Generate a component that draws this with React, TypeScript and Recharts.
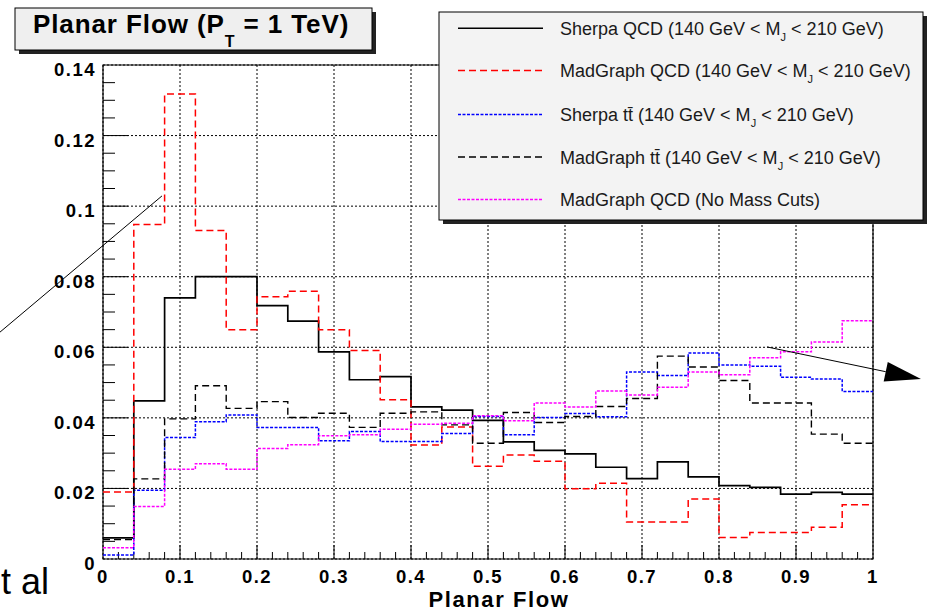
import React from 'react';
import { ComposedChart, Line, XAxis, YAxis, CartesianGrid, ReferenceLine, ReferenceArea } from 'recharts';

// histogram bin edges (25 bins of 0.04)
const binEdges = [0, 0.04, 0.08, 0.12, 0.16, 0.2, 0.24, 0.28, 0.32, 0.36, 0.4, 0.44, 0.48, 0.52, 0.56, 0.6, 0.64, 0.68, 0.72, 0.76, 0.8, 0.84, 0.88, 0.92, 0.96, 1.0];

const sherpaQcd = [0.006, 0.0448, 0.074, 0.08, 0.08, 0.0718, 0.0674, 0.0587, 0.0508, 0.0517, 0.0431, 0.0422, 0.0393, 0.0332, 0.0308, 0.0298, 0.026, 0.0228, 0.0275, 0.0233, 0.0208, 0.0203, 0.0184, 0.0189, 0.0184];
const madgraphQcd = [0.019, 0.0948, 0.1318, 0.0931, 0.065, 0.0743, 0.0759, 0.065, 0.0591, 0.0451, 0.0323, 0.0374, 0.0263, 0.0295, 0.0277, 0.0199, 0.0215, 0.0105, 0.0105, 0.017, 0.0061, 0.0075, 0.0075, 0.009, 0.0154];
const sherpaTt = [0.0011, 0.0195, 0.0344, 0.0389, 0.0408, 0.0373, 0.0373, 0.0335, 0.0361, 0.0333, 0.0333, 0.0356, 0.0404, 0.0352, 0.0401, 0.0412, 0.0403, 0.053, 0.052, 0.0584, 0.055, 0.0546, 0.0515, 0.051, 0.0475];
const madgraphTt = [0.0055, 0.0227, 0.0397, 0.0491, 0.0427, 0.0446, 0.0401, 0.0413, 0.0373, 0.0413, 0.0417, 0.038, 0.0328, 0.0415, 0.0387, 0.0404, 0.0432, 0.0455, 0.0575, 0.0544, 0.0506, 0.0442, 0.0442, 0.0354, 0.0328];
const madgraphNoCut = [0.0032, 0.0149, 0.0254, 0.027, 0.0254, 0.0313, 0.0324, 0.0349, 0.0352, 0.0368, 0.0382, 0.0385, 0.0406, 0.0392, 0.0442, 0.0431, 0.0476, 0.0465, 0.0487, 0.053, 0.0522, 0.057, 0.0587, 0.0615, 0.0675];

const xTicks = [0, 0.1, 0.2, 0.3, 0.4, 0.5, 0.6, 0.7, 0.8, 0.9, 1];
const xTickLabels = ['0', '0.1', '0.2', '0.3', '0.4', '0.5', '0.6', '0.7', '0.8', '0.9', '1'];
const yTicks = [0, 0.02, 0.04, 0.06, 0.08, 0.1, 0.12, 0.14];
const yTickLabels = ['0', '0.02', '0.04', '0.06', '0.08', '0.1', '0.12', '0.14'];

const series = [
  { key: 'sherpaQcd', label: 'Sherpa QCD', tt: false, cut: true, values: sherpaQcd, color: '#000', dash: undefined, width: 1.7 },
  { key: 'madgraphQcd', label: 'MadGraph QCD', tt: false, cut: true, values: madgraphQcd, color: '#ff0000', dash: '7 4', width: 1.5 },
  { key: 'sherpaTt', label: 'Sherpa t', tt: true, cut: true, values: sherpaTt, color: '#0000ff', dash: '3 1.5', width: 1.5 },
  { key: 'madgraphTt', label: 'MadGraph t', tt: true, cut: true, values: madgraphTt, color: '#000', dash: '7 4', width: 1.4 },
  { key: 'madgraphNoCut', label: 'MadGraph QCD (No Mass Cuts)', tt: false, cut: false, values: madgraphNoCut, color: '#ff00ff', dash: '3 1.5', width: 1.5 },
];

const data = binEdges.map((x, i) => {
  const row: Record<string, number> = { x };
  series.forEach((s) => {
    row[s.key] = s.values[Math.min(i, s.values.length - 1)];
  });
  return row;
});

// pixel -> data unit helpers for tick lengths
const PX_X = 1 / 770;
const PX_Y = 0.14 / 494;

const FONT = 'Liberation Sans, Arial, Helvetica, sans-serif';

const YTick = (props: any) => {
  const i = yTicks.findIndex((t) => Math.abs(t - props.payload.value) < 1e-9);
  return (
    <text x={96} y={props.y + 4.5} textAnchor="end" dominantBaseline="central"
      style={{ fontFamily: FONT, fontWeight: 700, fontSize: 18.5, letterSpacing: 1.5 }} fill="#000">
      {yTickLabels[i]}
    </text>
  );
};

const XTick = (props: any) => {
  const i = xTicks.findIndex((t) => Math.abs(t - props.payload.value) < 1e-9);
  return (
    <text x={props.x} y={576} textAnchor="middle" dominantBaseline="central"
      style={{ fontFamily: FONT, fontWeight: 700, fontSize: 18.5, letterSpacing: 1.5 }} fill="#000">
      {xTickLabels[i]}
    </text>
  );
};

const ArrowShape = (props: any) => {
  const { x1, y1, x2, y2 } = props;
  const len = Math.hypot(x2 - x1, y2 - y1);
  const ux = (x2 - x1) / len;
  const uy = (y2 - y1) / len;
  const bx = x2 - ux * 36;
  const by = y2 - uy * 36;
  const pts = `${x2},${y2} ${bx - uy * 10},${by + ux * 10} ${bx + uy * 10},${by - ux * 10}`;
  return (
    <g>
      <line x1={x1} y1={y1} x2={bx} y2={by} stroke="#000" strokeWidth={1} />
      <polygon points={pts} fill="#000" />
    </g>
  );
};

const yMinor: number[] = [];
for (let k = 1; k < 28; k++) if (k % 4 !== 0) yMinor.push(k * 0.005);
const yMajor = yTicks.slice(1, -1);
const xMinor: number[] = [];
for (let k = 1; k < 50; k++) if (k % 5 !== 0) xMinor.push(k * 0.02);
const xMajor = xTicks.slice(1, -1);

const legendRows = [28.3, 70.5, 114.5, 157, 199.5];

export default function App() {
  return (
    <div style={{ position: 'absolute', left: 0, top: 0, width: 936, height: 613, background: '#fff' }}>
      <ComposedChart width={936} height={613} data={data} margin={{ top: 65, right: 63, left: 0, bottom: 0 }}>
        <CartesianGrid stroke="#000" strokeDasharray="2 2" strokeWidth={1} />
        <XAxis type="number" dataKey="x" domain={[0, 1]} ticks={xTicks} height={54}
          axisLine={false} tickLine={false} tickSize={0} tick={<XTick />} interval={0} />
        <YAxis type="number" domain={[0, 0.14]} ticks={yTicks} width={103}
          axisLine={false} tickLine={false} tickSize={0} tick={<YTick />} interval={0} />
        <ReferenceArea x1={0} x2={1} y1={0} y2={0.14} fill="none" fillOpacity={0} stroke="#000" strokeWidth={1.2} />
        {yMinor.map((v) => (
          <ReferenceLine key={'ym' + v} segment={[{ x: 0, y: v }, { x: 12 * PX_X, y: v }]} stroke="#000" strokeWidth={1} />
        ))}
        {yMajor.map((v) => (
          <ReferenceLine key={'yM' + v} segment={[{ x: 0, y: v }, { x: 25 * PX_X, y: v }]} stroke="#000" strokeWidth={1} />
        ))}
        {xMinor.map((v) => (
          <ReferenceLine key={'xm' + v} segment={[{ x: v, y: 0 }, { x: v, y: 7 * PX_Y }]} stroke="#000" strokeWidth={1} />
        ))}
        {xMajor.map((v) => (
          <ReferenceLine key={'xM' + v} segment={[{ x: v, y: 0 }, { x: v, y: 14 * PX_Y }]} stroke="#000" strokeWidth={1} />
        ))}
        {series.map((s) => (
          <Line key={s.key} dataKey={s.key} type="stepAfter" stroke={s.color} strokeWidth={s.width}
            strokeDasharray={s.dash} dot={false} activeDot={false} isAnimationActive={false} />
        ))}
        {/* annotation lines from the slide */}
        <ReferenceLine ifOverflow="visible" segment={[{ x: -0.1338, y: 0.0643 }, { x: 0.0766, y: 0.1029 }]} stroke="#000" strokeWidth={1} />
        <ReferenceLine ifOverflow="visible" segment={[{ x: 0.8623, y: 0.0601 }, { x: 1.0623, y: 0.051 }]} shape={ArrowShape} />
      </ComposedChart>

      <svg width={936} height={613} style={{ position: 'absolute', left: 0, top: 0, pointerEvents: 'none' }}>
        {/* title box */}
        <rect x={19} y={12} width={357} height={42} fill="#222" />
        <rect x={15} y={8} width={357} height={42} fill="#efefef" stroke="#000" strokeWidth={1} />
        <text x={33} y={33} style={{ fontFamily: FONT, fontWeight: 700, fontSize: 26, letterSpacing: 0.9 }} fill="#000">
          Planar Flow (P
          <tspan dy={14} fontSize={16}>T</tspan>
          <tspan dy={-14}> = 1 TeV)</tspan>
        </text>

        {/* legend */}
        <rect x={443} y={16} width={484} height={208} fill="#222" />
        <rect x={439} y={12} width={484} height={208} fill="#f3f3f3" stroke="#000" strokeWidth={1} />
        {series.map((s, i) => (
          <g key={s.key}>
            <line x1={458} x2={543} y1={legendRows[i]} y2={legendRows[i]} stroke={s.color}
              strokeWidth={s.color === '#000' && !s.dash ? 1.5 : 1.3} strokeDasharray={s.dash} />
            <text x={560} y={legendRows[i] + 6.5} style={{ fontFamily: FONT, fontSize: 18 }} fill="#1a1a1a">
              {s.cut ? (
                <>
                  {s.label}{s.tt ? 't\u0304' : ''} (140 GeV &lt; M
                  <tspan dy={6} fontSize={11}>J</tspan>
                  <tspan dy={-6}> &lt; 210 GeV)</tspan>
                </>
              ) : s.label}
            </text>
          </g>
        ))}

        {/* axis title */}
        <text x={499} y={607} textAnchor="middle" style={{ fontFamily: FONT, fontWeight: 700, fontSize: 22, letterSpacing: 1.6 }} fill="#000">
          Planar Flow
        </text>

        {/* clipped slide text */}
        <text x={1} y={594} style={{ fontFamily: FONT, fontSize: 36 }} fill="#000">t al</text>
      </svg>
    </div>
  );
}
